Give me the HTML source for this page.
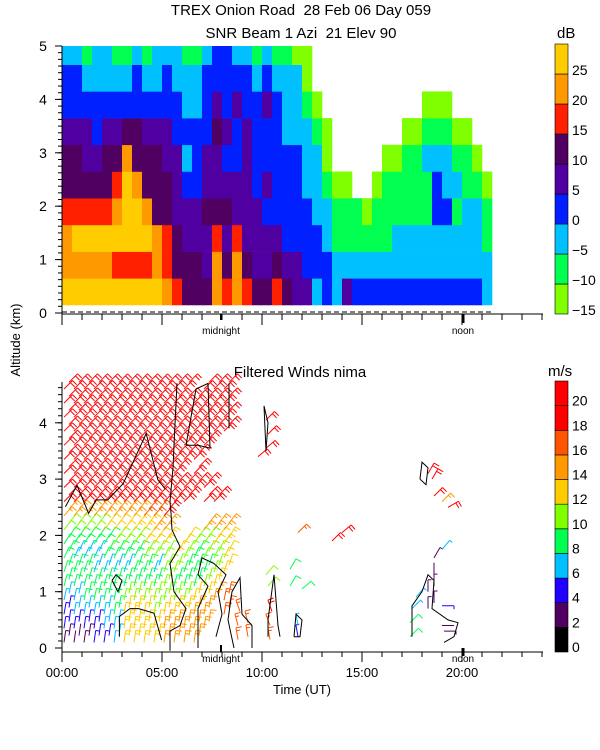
<!DOCTYPE html>
<html><head><meta charset="utf-8"><style>
body{margin:0;background:#fff;}
svg{display:block;font-family:"Liberation Sans",sans-serif;}
text{white-space:pre;}
</style></head><body>
<svg id="chart" width="600" height="750" viewBox="0 0 600 750" xmlns="http://www.w3.org/2000/svg">
<rect width="600" height="750" fill="#fff"/>
<text x="301" y="15" text-anchor="middle" font-size="15">TREX Onion Road  28 Feb 06 Day 059</text>
<text x="301" y="38" text-anchor="middle" font-size="15">SNR Beam 1 Azi  21 Elev 90</text>
<text x="300" y="377" text-anchor="middle" font-size="15">Filtered Winds nima</text>
<text x="557" y="38" font-size="15">dB</text>
<text x="548" y="376" font-size="15">m/s</text>
<text transform="translate(20,340) rotate(-90)" text-anchor="middle" font-size="13">Altitude (km)</text>
<text x="302" y="694" text-anchor="middle" font-size="13">Time (UT)</text>
<g id="snr"></g>
<g id="winds"></g>
<g id="axes"></g>
</svg>
<script>
// ---- SNR data: columns every 0.5 h starting at 0, rows of 0.5 km starting at 0.15 km
const snrTimes = [0,0.5,1,1.5,2,2.5,3,3.5,4,4.5,5,5.5,6,6.5,7,7.5,8,8.5,9,9.5,10,10.5,11,11.5,12,12.5,13,13.5,14,14.5,15,15.5,16,16.5,17,17.5,18,18.5,19,19.5,20,20.5,21];
const snrHeights = [0.15,0.65,1.15,1.65,2.15,2.65,3.15,3.65,4.15,4.65];
const snrValues = [
[27,22,22,17,12,12,7,2,2,-3],
[27,22,27,17,12,12,7,2,2,-3],
[27,20,27,17,12,7,7,2,-3,-8],
[27,22,27,17,12,7,2,2,-3,-3],
[27,22,27,17,12,12,7,2,-3,-3],
[27,17,27,22,17,12,7,2,-3,-8],
[27,17,27,27,27,22,12,2,-3,-8],
[27,17,27,27,22,12,12,2,2,-3],
[27,17,27,22,12,12,7,2,-3,-8],
[27,22,22,12,12,12,7,2,-3,-3],
[22,17,17,12,12,7,7,2,2,-3],
[17,12,12,7,7,7,2,2,-3,-3],
[12,12,7,7,2,-3,2,-3,-3,-8],
[12,12,7,7,2,2,2,-3,-3,-8],
[12,7,7,12,7,7,2,2,2,-3],
[22,22,17,12,7,7,12,7,2,2],
[17,12,7,12,7,2,7,2,2,2],
[22,22,17,7,7,2,2,7,2,-3],
[17,12,7,7,7,7,7,2,2,-3],
[12,7,7,7,2,2,2,2,-3,-8],
[12,7,7,2,7,2,2,7,2,-3],
[17,12,7,2,2,2,2,2,-3,-8],
[12,7,2,2,2,2,-3,-3,-3,-8],
[7,7,2,2,2,2,-3,-3,-3,-13],
[7,2,2,2,-3,-3,-3,-8,-13,-13],
[-3,2,2,-3,-3,-3,-8,-13,null,null],
[2,2,-3,-3,-8,-13,-13,null,null,null],
[-3,-3,-8,-8,-13,null,null,null,null,null],
[7,-3,-8,-8,-13,null,null,null,null,null],
[2,-3,-8,-8,null,null,null,null,null,null],
[2,-3,-8,-13,null,null,null,null,null,null],
[2,-3,-8,-8,-13,null,null,null,null,null],
[2,-3,-8,-8,-8,-13,null,null,null,null],
[2,-3,-3,-8,-8,-13,null,null,null,null],
[2,-3,-3,-8,-8,-8,-13,null,null,null],
[2,-3,-3,-8,-8,-8,-13,null,null,null],
[2,-3,-3,-8,-8,-3,-8,-13,null,null],
[2,-3,-3,2,2,-3,-8,-13,null,null],
[2,-3,-3,2,-3,-3,-8,-13,null,null],
[2,-3,-3,-8,-3,-8,-13,null,null,null],
[2,-3,-3,-3,-8,-8,-13,null,null,null],
[2,-3,-3,-3,-8,-13,null,null,null,null],
[-3,-3,-8,-8,-13,null,null,null,null,null]
];
const snrBinEdges = [-15,-10,-5,0,5,10,15,20,25,30];
const snrColors = ["#80ff00","#00ff50","#00c0ff","#0020ff","#5000a0","#500060","#ff2000","#ff9900","#ffcc00"];
const snrTickLabels = ["25","20","15","10","5","0","\u22125","\u221210","\u221215"];
const snrTickValues = [25,20,15,10,5,0,-5,-10,-15];

// ---- Wind data: grid columns (h UT) and rows (km), speeds m/s
const windTimes = [0.25,0.75,1.25,1.75,2.25,2.75,3.25,3.75,4.25,4.75,5.25,5.75,6.25,6.75,7.25,7.75,8.25];
const windHeights = [0.1,0.35,0.6,0.85,1.1,1.35,1.6,1.85,2.1,2.35,2.6,2.85,3.1,3.35,3.6,3.85,4.1,4.35,4.6];
const windRowAngles = [8,8,10,12,15,18,25,32,38,42,45,45,45,45,45,45,45,45,45];
const windSpeeds = [
[3,4,5,7,9,9,8,9,11,15,19,19,19,19,19,19,19,19,19],
[2,4,6,7,9,8,7,9,11,15,19,19,19,19,19,19,19,19,19],
[3,5,7,8,9,8,7,9,11,15,19,19,19,19,19,19,19,19,19],
[4,5,7,8,9,7,7,9,11,15,19,19,19,19,19,19,19,19,19],
[5,6,7,9,8,7,8,9,12,15,19,19,19,19,19,19,19,19,19],
[7,7,9,9,8,7,8,10,12,15,19,19,19,19,19,19,19,19,19],
[13,13,12,10,8,7,8,10,12,15,19,19,19,19,19,19,19,19,19],
[13,13,13,10,9,8,9,11,13,15,19,19,19,19,19,19,19,19,19],
[13,13,12,10,9,8,10,12,13,16,19,19,19,19,19,19,19,19,19],
[13,12,11,10,8,7,10,12,14,16,19,19,19,19,19,19,19,19,19],
[14,14,12,11,10,10,11,13,14,19,19,19,19,19,19,19,19,19,19],
[15,14,13,11,9,10,12,null,null,null,19,19,19,19,19,19,19,19,19],
[15,14,13,11,9,8,10,12,null,null,19,19,null,19,19,19,19,19,19],
[15,14,14,12,9,8,9,11,null,null,null,19,19,19,19,19,19,19,null],
[null,14,14,12,10,9,10,11,15,null,19,19,null,null,19,19,19,19,19],
[null,null,null,14,12,10,10,12,15,null,19,null,null,null,null,19,19,19,19],
[null,null,16,16,null,12,12,13,14,null,null,null,null,null,null,19,19,19,19]
];
// isolated barbs: [time h, altitude km, speed m/s, shaft angle deg]
const windExtras = [
[8.8,0.15,16,-10],[8.8,0.4,17,-15],[8.9,0.65,17,-20],[9.3,0.2,16,-10],[9.3,0.45,17,-15],
[10.4,0.15,16,-10],[10.4,0.4,17,-20],[10.5,0.65,18,-20],[10.3,1.1,10,40],[10.2,1.3,11,40],
[11.8,0.2,4,-10],[11.8,0.4,6,-10],[11.4,1.1,9,30],[11.4,1.4,9,30],[12.0,1.05,9,50],
[9.8,3.4,19,50],[10.2,3.55,19,50],[10.3,3.8,19,45],[10.2,4.05,19,45],
[11.8,2.05,17,45],[13.5,1.9,18,45],[14.0,2.05,18,50],
[17.4,0.2,8,45],[17.4,0.45,8,45],[17.5,0.7,7,45],[17.7,0.9,6,40],
[18.3,0.7,3,0],[18.3,1.0,3,0],[18.6,0.8,3,0],[18.6,1.1,3,0],[18.6,1.3,2,0],
[19.0,0.4,2,90],[19.1,0.3,3,90],[19.0,0.75,5,90],[18.6,1.6,3,30],[19.0,1.75,6,40],
[18.3,3.1,19,30],[18.5,3.0,19,30],[18.6,2.7,19,45],[19.0,2.6,15,45],[19.3,2.5,19,60]
];
// contour lines (time h, altitude km)
const contours = [
[[0.17,2.51],[0.75,2.89],[1.33,2.39],[1.71,2.63],[2.29,2.63],[3.06,2.92],[4.21,3.81],[4.79,2.99],[5.17,2.82]],
[[2.87,0.2],[2.87,0.56],[3.4,0.7],[3.83,0.7],[4.6,0.62],[4.98,0.14]],
[[5.75,4.7],[5.6,3.6],[5.55,3.2],[5.4,2.6],[5.45,2.4],[5.5,2.1],[5.9,1.8],[5.4,1.5],[5.6,1.0],[6.2,0.7],[5.9,0.4],[5.4,0.3],[5.4,-0.05]],
[[6.2,3.6],[6.7,4.6],[7.3,4.7],[7.4,3.55],[6.8,3.6],[6.2,3.6]],
[[8.35,4.7],[8.35,3.9]],
[[10.1,4.3],[10.2,3.5],[10.3,4.0],[10.1,4.3]],
[[6.8,0.0],[6.8,0.7],[7.3,1.1],[6.8,1.3],[7.0,1.6],[7.6,1.5],[8.2,1.3],[7.8,1.0],[8.0,0.6],[7.7,0.2]],
[[8.6,0.0],[8.3,0.5],[8.5,1.0],[8.9,1.25],[9.0,0.6],[9.5,0.4],[9.5,0.0]],
[[10.3,0.2],[10.3,0.5],[10.6,1.3],[10.8,0.4],[10.9,0.2]],
[[11.6,0.2],[11.7,0.6],[12.0,0.5],[11.9,0.2],[11.6,0.2]],
[[2.5,1.2],[2.7,1.3],[3.0,1.2],[2.8,1.0],[2.5,1.2]],
[[17.5,0.2],[17.5,0.75],[18.0,1.0],[18.3,1.3],[18.6,1.2],[18.5,0.7],[19.3,0.5],[19.8,0.45],[19.6,0.2],[19.1,0.1]],
[[17.9,3.0],[18.0,3.3],[18.3,3.2],[18.2,2.9],[17.9,3.0]]
];
const windBinColors = ["#000000","#500060","#2000ff","#00c0ff","#00ff50","#80ff00","#ffcc00","#ff9900","#ff5500","#ff0000","#ff0000"];
const windTickValues = [20,18,16,14,12,10,8,6,4,2,0];
const timeTickLabels = ["00:00","05:00","10:00","15:00","20:00"];
const timeTickValues = [0,5,10,15,20];

const NS = "http://www.w3.org/2000/svg";
const X = t => 62 + 20 * t;
const Ytop = h => 313 - 53.4 * h;
const Ybot = h => 648 - 56.3 * h;
function mk(tag, attrs, parent){ const e=document.createElementNS(NS,tag); for(const k in attrs) e.setAttribute(k,attrs[k]); parent.appendChild(e); return e; }
function snrColor(v){ for(let i=0;i<snrColors.length;i++){ if(v<snrBinEdges[i+1]) return snrColors[i]; } return snrColors[snrColors.length-1]; }
function windColor(s){ let i=Math.floor(s/2); if(i<0)i=0; if(i>10)i=10; return windBinColors[i]; }

const gS = document.getElementById('snr');
snrTimes.forEach((t,i)=>{
  snrValues[i].forEach((v,j)=>{
    if(v===null) return;
    const h0 = snrHeights[j], h1 = j+1<snrHeights.length ? snrHeights[j+1] : 5.0;
    const r = mk('rect',{x:X(t),y:Ytop(h1),width:X(t+0.5)-X(t)+0.3,height:Ytop(h0)-Ytop(h1)+0.3,fill:snrColor(v)},gS);
    
    
  });
});

const gW = document.getElementById('winds');
function barb(t,h,s,ang){
  const px=X(t), py=Ybot(h), a=ang*Math.PI/180, L=12;
  const ex=px+L*Math.sin(a), ey=py-L*Math.cos(a);
  let d=`M${px.toFixed(1)},${py.toFixed(1)}L${ex.toFixed(1)},${ey.toFixed(1)}`;
  let n=Math.round(s/5), pos=0;
  const bx=Math.sin(a+Math.PI/2), by=-Math.cos(a+Math.PI/2);
  while(n>0){
    const fx=px+(L-pos)*Math.sin(a), fy=py-(L-pos)*Math.cos(a);
    const len = n>=2?6:3.5;
    d+=`M${fx.toFixed(1)},${fy.toFixed(1)}l${(len*bx).toFixed(1)},${(len*by).toFixed(1)}`;
    n -= n>=2?2:1; pos+=3;
  }
  const p=mk('path',{d:d,stroke:windColor(s),'stroke-width':1,fill:'none'},gW);
  
  
}
windTimes.forEach((t,i)=>{
  windSpeeds[i].forEach((s,j)=>{
    if(s===null) return;
    const h=windHeights[j], ang=windRowAngles[j];
    barb(t-0.15,h,s,ang); barb(t+0.1,h+0.12,s,ang);
  });
});
windExtras.forEach(w=>barb(w[0],w[1],w[2],w[3]));
contours.forEach(c=>{
  const p=mk('polyline',{points:c.map(q=>X(q[0]).toFixed(1)+','+Ybot(q[1]).toFixed(1)).join(' '),stroke:'#000','stroke-width':1,fill:'none'},gW);
  
  
});

const gA = document.getElementById('axes');
function line(x1,y1,x2,y2,w){ return mk('line',{x1:x1,y1:y1,x2:x2,y2:y2,stroke:'#000','stroke-width':w||1},gA); }
function txt(x,y,s,size,anchor){ const e=mk('text',{x:x,y:y,'font-size':size,'text-anchor':anchor||'middle'},gA); e.textContent=s; return e; }
let e=line(62,46,62,314);  
e=line(62,314,543,314);  
for(let k=0;k<=40;k++){ const h=k*0.125; line(58,Ytop(h),62,Ytop(h)); }
[0,1,2,3,4,5].forEach(h=>{ line(55,Ytop(h),62,Ytop(h)); const t=txt(43,Ytop(h)+5,String(h),14);   });
for(let k=0;k<=24;k++){ line(X(k),314,X(k),k%5===0?325:320); }
e=line(62,312,493,312); e.setAttribute('stroke-dasharray','5,3');  
line(X(7.95),314,X(7.95),320,2); line(X(20.05),314,X(20.05),323,3);
txt(X(7.95),334,'midnight',10); txt(X(20.05),334,'noon',10);
e=line(62,382,62,652);  
e=line(62,652,543,652);  
for(let k=0;k<=37;k++){ const h=k*0.125; line(58,Ybot(h),62,Ybot(h)); }
[0,1,2,3,4].forEach(h=>{ line(55,Ybot(h),62,Ybot(h)); const t=txt(43,Ybot(h)+5,String(h),14);   });
for(let k=0;k<=24;k++){ line(X(k),652,X(k),k%5===0?662:657); }
line(X(7.95),645,X(7.95),652,2); line(X(20.05),648,X(20.05),656,3);
txt(X(7.95),662,'midnight',10); txt(X(20.05),662,'noon',10);
timeTickValues.forEach((v,i)=>{ const t=txt(X(v),677,timeTickLabels[i],13);   });
const cbTop=44, cbBot=314, nS=snrColors.length, bh=(cbBot-cbTop)/nS;
snrColors.forEach((c,i)=>{ const r=mk('rect',{x:555,y:cbBot-(i+1)*bh,width:13,height:bh,fill:c,stroke:'#000','stroke-width':0.6},gA);   });
const cbY = v => cbBot - (v - snrBinEdges[0]) / (snrBinEdges[snrBinEdges.length-1]-snrBinEdges[0]) * (cbBot-cbTop);
snrTickValues.forEach((v,i)=>{ const t=txt(572,cbY(v)+1,snrTickLabels[i],14,'start');   });
const wTop=381, wBot=652, nW=windBinColors.length, wh=(wBot-wTop)/nW;
windBinColors.forEach((c,i)=>{ const r=mk('rect',{x:555,y:wBot-(i+1)*wh,width:13,height:wh,fill:c,stroke:'#000','stroke-width':0.6},gA);   });
windTickValues.forEach(v=>{ const t=txt(572,wBot-(v/22)*(wBot-wTop),String(v),14,'start');   });
</script>
</body></html>
